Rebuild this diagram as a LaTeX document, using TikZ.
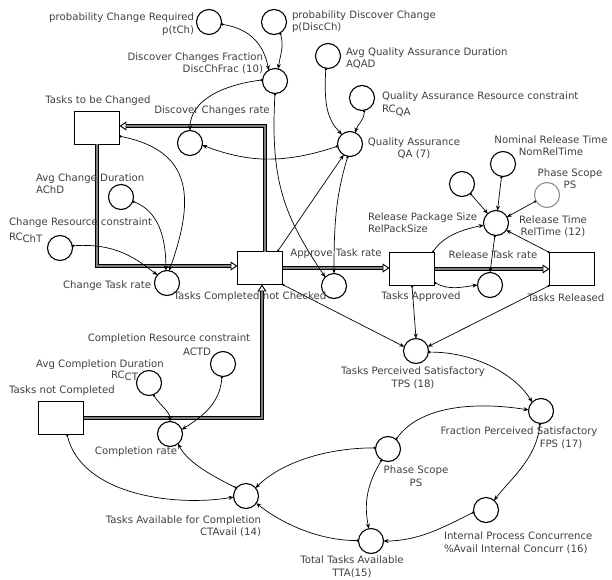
\documentclass[tikz,border=0pt]{standalone}
\usepackage{fontspec}
\setmainfont{DejaVu Sans}
\usetikzlibrary{arrows.meta}

\begin{document}
\begin{tikzpicture}[x=1bp,y=-1bp,
  every node/.style={inner sep=0pt, outer sep=0pt},
  aux/.style={circle, draw, line width=1.1pt, minimum size=25bp},
  stock/.style={rectangle, draw, line width=1.1pt, minimum width=45bp, minimum height=33bp},
  lbl/.style={font=\fontsize{10.2}{12.5}\selectfont, text=black!75, align=center},
  link/.style={draw, line width=0.7pt, {Circle[length=2.2pt]}-{Stealth[length=5pt,width=4pt]}},
  flow/.style={line width=1.3pt, double=black!50, double distance=1.2pt,
    -{Triangle[open,length=7pt,width=9pt,line width=0.9pt]}},
]
\useasboundingbox (0,0) rectangle (612,580);

% ---- stocks
\node[stock] (ttbc) at (97,128) {};
\node[stock] (tcnc) at (260,268) {};
\node[stock] (ta) at (412,269) {};
\node[stock] (tr) at (572,269) {};
\node[stock] (tnc) at (61,418) {};

% ---- auxiliaries and rates
\node[aux] (pch) at (209,22) {};
\node[aux] (pdisc) at (274,22) {};
\node[aux] (dfrac) at (275,81) {};
\node[aux] (aqad) at (328,56) {};
\node[aux] (rcqa) at (362,98) {};
\node[aux] (qa) at (350,144) {};
\node[aux] (dcr) at (190,143) {};
\node[aux] (achd) at (121,197) {};
\node[aux] (rccht) at (60,248) {};
\node[aux] (ctr) at (167,283) {};
\node[aux] (atr) at (334,286) {};
\node[aux] (rtr) at (490,285) {};
\node[aux] (reltime) at (496,223) {};
\node[aux] (rps) at (462,184) {};
\node[aux] (nrt) at (503,164) {};
\node[aux, draw=black!45] (ps1) at (547,195) {};
\node[aux] (tps) at (416,351) {};
\node[aux] (fps) at (541,411) {};
\node[aux] (ps2) at (388,449) {};
\node[aux] (ipc) at (486,510) {};
\node[aux] (tta) at (371,541) {};
\node[aux] (cta) at (246,496) {};
\node[aux] (cr) at (170,434) {};
\node[aux] (rcct) at (149,383) {};
\node[aux] (actd) at (223,364) {};

% ---- material flows
\draw[flow] ([xshift=5bp]tcnc.north) |- ([yshift=2bp]ttbc.east);
\draw[flow] (ttbc.south) |- ([yshift=2bp]tcnc.west);
\draw[flow] (tnc.east) -| ([xshift=2bp]tcnc.south);
\draw[flow] (tcnc.east) -- (tcnc.east -| ta.west);
\draw[flow] (ta.east) -- (ta.east -| tr.west);

% ---- information links
\draw[link] (pch.-10) .. controls +(30,5) and +(-5,-25) .. (dfrac.120);
\draw[link] (pdisc.-60) .. controls +(4,15) and +(2,-15) .. (dfrac.75);
\draw[link] (dfrac.175) .. controls +(-40,5) and +(0,-30) .. (dcr.90);
\draw[link] (dfrac.-90) .. controls +(-5,90) and +(-40,-60) .. (atr.135);
\draw[link] (aqad.-100) .. controls +(-2,35) and +(-15,-15) .. (qa.130);
\draw[link] (rcqa.-80) .. controls +(0,10) and +(2,-8) .. (qa.65);
\draw[link] (qa.190) .. controls +(-60,20) and +(40,15) .. (dcr.-10);
\draw[link] (qa.-100) .. controls +(-12,40) and +(0,-50) .. (atr.90);
\draw[link] ([xshift=-5bp]tcnc.north east) -- (qa.-120);
\draw[link] (ttbc.-20) .. controls +(75,15) and +(25,-70) .. (ctr.80);
\draw[link] (achd.-20) .. controls +(25,10) and +(0,-35) .. (ctr.95);
\draw[link] (rccht.10) .. controls +(45,-3) and +(-20,-15) .. (ctr.140);
\draw[link] (tcnc.south east) -- (tps.160);
\draw[link] (ta.south) -- (tps.north);
\draw[link] (tr.south west) -- (tps.20);
\draw[link] ([yshift=3bp]ta.south east) .. controls +(15,8) and +(-15,2) .. (rtr.180);
\draw[link] ([xshift=-2bp]ta.north east) .. controls +(10,-15) and +(-25,5) .. (reltime.190);
\draw[link] (reltime.-95) -- (rtr.north);
\draw[link] (tr.north west) -- (reltime.-35);
\draw[link] (rps) -- (reltime);
\draw[link] (nrt) -- (reltime);
\draw[link] (ps1) -- (reltime);
\draw[link] (tps.-5) .. controls +(50,0) and +(-15,-25) .. (fps.135);
\draw[link] (ps2.50) .. controls +(25,-35) and +(-50,-8) .. (fps.175);
\draw[link] (fps.-95) .. controls +(-3,35) and +(15,-20) .. (ipc.50);
\draw[link] (ipc.190) .. controls +(-30,15) and +(35,0) .. (tta.0);
\draw[link] (ps2.-120) .. controls +(-15,25) and +(-5,-25) .. (tta.100);
\draw[link] (ps2.175) .. controls +(-50,0) and +(25,-25) .. (cta.40);
\draw[link] (tta.178) .. controls +(-40,0) and +(25,20) .. (cta.-35);
\draw[link] (cta.140) .. controls +(-20,-10) and +(10,20) .. (cr.-50);
\draw[link] ([xshift=6bp]tnc.south) .. controls +(15,60) and +(-60,10) .. (cta.185);
\draw[link] (rcct.-70) .. controls +(8,12) and +(0,-10) .. (cr.90);
\draw[link] (actd.-95) .. controls +(-2,30) and +(15,-10) .. (cr.20);

% ---- labels
\node[lbl, anchor=east, align=right] (t-pch) at (194,24) {probability Change Required\\p(tCh)};
\node[lbl, anchor=west, align=left] (t-pdisc) at (292,21.5) {probability Discover Change\\p(DiscCh)};
\node[lbl, anchor=east, align=right] (t-dfrac) at (263,63.5) {Discover Changes Fraction\\DiscChFrac (10)};
\node[lbl, anchor=west, align=left] (t-aqad) at (346,58.5) {Avg Quality Assurance Duration\\AQAD};
\node[lbl, anchor=west] (t-rcqa) at (382,97) {Quality Assurance Resource constraint};
\node[lbl, anchor=west] (t-rcqa2) at (382,111) {RC\raisebox{-2.5bp}{QA}};
\node[lbl] (t-ttbc) at (98,101) {Tasks to be Changed};
\node[lbl] (t-dcr) at (212,111) {Discover Changes rate};
\node[lbl] (t-qa) at (414,148.5) {Quality Assurance\\QA (7)};
\node[lbl] (t-nrt) at (551,145.5) {Nominal Release Time\\NomRelTime};
\node[lbl] (t-ps1) at (570,178.5) {Phase Scope\\PS};
\node[lbl, anchor=west, align=left] (t-achd) at (36,183.5) {Avg Change Duration\\AChD};
\node[lbl, anchor=west] (t-rccht) at (9,223) {Change Resource constraint};
\node[lbl, anchor=west] (t-rccht2) at (9,238) {RC\raisebox{-2.5bp}{ChT}};
\node[lbl, anchor=west, align=left] (t-rps) at (368,222.5) {Release Package Size\\RelPackSize};
\node[lbl] (t-reltime) at (553,226.5) {Release Time\\RelTime (12)};
\node[lbl] (t-atr) at (336,254) {Approve Task rate};
\node[lbl] (t-rtr) at (493,255) {Release Task rate};
\node[lbl, anchor=east] (t-ctr) at (151,286) {Change Task rate};
\node[lbl] (t-tcnc) at (250,297) {Tasks Completed not Checked};
\node[lbl] (t-ta) at (421,297) {Tasks Approved};
\node[lbl] (t-tr) at (566,298) {Tasks Released};
\node[lbl] (t-actd) at (169,339) {Completion Resource constraint};
\node[lbl] (t-actd2) at (197,352) {ACTD};
\node[lbl] (t-rcct) at (100,365) {Avg Completion Duration};
\node[lbl, anchor=east] (t-rcct2) at (138,376) {RC\raisebox{-2.5bp}{CT}};
\node[lbl] (t-tnc) at (62,391) {Tasks not Completed};
\node[lbl] (t-cr) at (136,452) {Completion rate};
\node[lbl] (t-tps) at (413,378) {Tasks Perceived Satisfactory\\TPS (18)};
\node[lbl] (t-fps) at (519,432) {Fraction Perceived Satisfactory};
\node[lbl] (t-fps2) at (561,444) {FPS (17)};
\node[lbl] (t-ps2) at (416,476) {Phase Scope\\PS};
\node[lbl, anchor=east, align=right] (t-cta) at (261,526.5) {Tasks Available for Completion\\CTAvail (14)};
\node[lbl, anchor=west, align=left] (t-ipc) at (444,543) {Internal Process Concurrence\\\%Avail Internal Concurr (16)};
\node[lbl] (t-tta) at (352,567) {Total Tasks Available\\TTA(15)};
\end{tikzpicture}
\end{document}
